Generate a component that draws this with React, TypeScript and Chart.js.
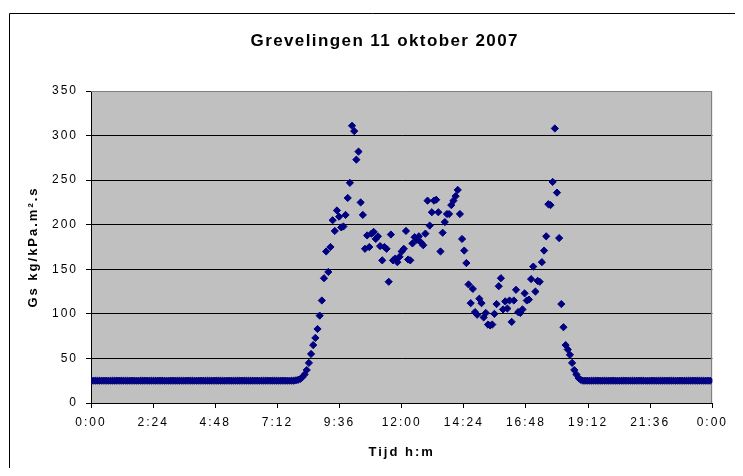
import React, { useEffect, useRef } from "react";
import { Chart, registerables } from "chart.js";

Chart.register(...registerables);

const TITLE = "Grevelingen 11 oktober 2007";
const X_TITLE = "Tijd h:m";
const Y_TITLE = "Gs kg/kPa.m².s";

const STEP_MINUTES = 5;
const X_MAX = 1440;
const X_TICK_STEP = 144;
const Y_MAX = 350;
const Y_TICK_STEP = 50;

// Gs values every 5 minutes, one row per hour
const gsNightEarly = [
  25, 25, 25, 25, 25, 25, 25, 25, 25, 25, 25, 25, // 0:00
  25, 25, 25, 25, 25, 25, 25, 25, 25, 25, 25, 25, // 1:00
  25, 25, 25, 25, 25, 25, 25, 25, 25, 25, 25, 25, // 2:00
  25, 25, 25, 25, 25, 25, 25, 25, 25, 25, 25, 25, // 3:00
  25, 25, 25, 25, 25, 25, 25, 25, 25, 25, 25, 25, // 4:00
  25, 25, 25, 25, 25, 25, 25, 25, 25, 25, 25, 25, // 5:00
  25, 25, 25, 25, 25, 25, 25, 25, 25, 25, 25, 25, // 6:00
  25, 25, 25, 25, 25, 25, 25, 25, 25, 25, 25, 25.5, // 7:00
];

const gsDaytime = [
  26, 27, 29, 32, 37, 45, 55, 65, 73, 83, 98, 115, // 8:00
  140, 170, 147, 175, 205, 193, 216, 209, 197, 198, 211, 230, // 9:00
  247, 311, 305, 273, 282, 225, 211, 173, 188, 175, 190, 192, // 10:00
  184, 187, 176, 160, 175, 173, 136, 189, 160, 162, 158, 164, // 11:00
  170, 173, 193, 161, 160, 179, 186, 183, 187, 180, 177, 190, // 12:00
  227, 199, 214, 227, 228, 214, 170, 191, 203, 212, 212, 222, // 13:00
  227, 232, 239, 212, 184, 171, 157, 133, 112, 128, 102, 99, // 14:00
  117, 112, 96, 101, 88, 87, 88, 100, 111, 131, 140, 105, // 15:00
  114, 106, 115, 91, 115, 127, 102, 101, 105, 123, 115, 116, // 16:00
  139, 153, 125, 137, 136, 158, 171, 187, 223, 222, 248, 308, // 17:00
  236, 185, 111, 85, 65, 60, 54, 45, 37, 32, 28, 26, // 18:00
];

const gsNightLate = [
  25, 25, 25, 25, 25, 25, 25, 25, 25, 25, 25, 25, // 19:00
  25, 25, 25, 25, 25, 25, 25, 25, 25, 25, 25, 25, // 20:00
  25, 25, 25, 25, 25, 25, 25, 25, 25, 25, 25, 25, // 21:00
  25, 25, 25, 25, 25, 25, 25, 25, 25, 25, 25, 25, // 22:00
  25, 25, 25, 25, 25, 25, 25, 25, 25, 25, 25, 25, // 23:00
];

const FONT = "'Liberation Sans', Arial, Helvetica, sans-serif";

function formatTime(value: number): string {
  const m = Math.round(value) % 1440;
  const h = Math.floor(m / 60);
  const mm = m % 60;
  return `${h}:${String(mm).padStart(2, "0")}`;
}

const excelPlugin = {
  id: "excelLook",
  beforeUpdate(chart: any) {
    chart.ctx.letterSpacing = "2px";
  },
  beforeDraw(chart: any) {
    const { ctx, chartArea } = chart;
    ctx.save();
    ctx.fillStyle = "#C0C0C0";
    ctx.fillRect(chartArea.left, chartArea.top, chartArea.right - chartArea.left, chartArea.bottom - chartArea.top);
    // outer frame (left and top edges visible)
    ctx.strokeStyle = "#000";
    ctx.lineWidth = 1;
    ctx.beginPath();
    ctx.moveTo(1.5, chart.height);
    ctx.lineTo(1.5, 5.5);
    ctx.lineTo(chart.width, 5.5);
    ctx.stroke();
    // title
    ctx.letterSpacing = "1.4px";
    ctx.fillStyle = "#000";
    ctx.font = `bold 17px ${FONT}`;
    ctx.textAlign = "center";
    ctx.textBaseline = "middle";
    ctx.fillText(TITLE, 376.7, 33);
    ctx.restore();
  },
  beforeDatasetsDraw(chart: any) {
    const { ctx, chartArea } = chart;
    ctx.save();
    ctx.strokeStyle = "#808080";
    ctx.lineWidth = 1;
    ctx.beginPath();
    const r = Math.round(chartArea.right) - 0.5;
    const t = Math.round(chartArea.top) + 0.5;
    ctx.moveTo(chartArea.left, t);
    ctx.lineTo(r, t);
    ctx.lineTo(r, chartArea.bottom);
    ctx.stroke();
    ctx.restore();
  },
};

export default function App() {
  const ref = useRef<HTMLCanvasElement>(null);

  useEffect(() => {
    const canvas = ref.current;
    if (!canvas) return;
    const gsValues = [...gsNightEarly, ...gsDaytime, ...gsNightLate];
    const points = gsValues.map((v, i) => ({ x: i * STEP_MINUTES, y: v }));

    const chart = new Chart(canvas, {
      type: "scatter",
      data: {
        datasets: [
          {
            label: "Gs",
            data: points,
            pointStyle: "rectRot",
            pointRadius: 3.6,
            pointBorderWidth: 1,
            backgroundColor: "#000080",
            borderColor: "#000080",
            showLine: false,
          },
        ],
      },
      options: {
        responsive: false,
        animation: false,
        events: [],
        layout: { padding: { left: 0, right: 15, top: 83, bottom: 0 } },
        plugins: {
          legend: { display: false },
          title: { display: false },
          tooltip: { enabled: false },
        },
        scales: {
          x: {
            type: "linear",
            min: 0,
            max: X_MAX,
            afterFit: (s: any) => {
              s.height = 65;
            },
            ticks: {
              stepSize: X_TICK_STEP,
              autoSkip: false,
              maxRotation: 0,
              color: "#000",
              padding: 7,
              font: { family: FONT, size: 12 },
              callback: (v: any) => formatTime(Number(v)),
            },
            grid: {
              drawOnChartArea: false,
              drawTicks: true,
              tickLength: 5,
              tickColor: "#000",
              color: "#000",
            },
            border: { display: true, color: "#000", width: 1 },
            title: {
              display: true,
              text: X_TITLE,
              color: "#000",
              font: { family: FONT, size: 13, weight: "bold" },
              padding: { top: 0, bottom: 8 },
            },
          },
          y: {
            min: 0,
            max: Y_MAX,
            afterFit: (s: any) => {
              s.width = 83;
            },
            ticks: {
              stepSize: Y_TICK_STEP,
              color: "#000",
              padding: 8,
              font: { family: FONT, size: 12 },
            },
            grid: {
              color: (c: any) => (c.tick && c.tick.value === Y_MAX ? "rgba(0,0,0,0)" : "#000"),
              tickColor: "#000",
              tickLength: 5,
              lineWidth: 1,
            },
            border: { display: true, color: "#000", width: 1 },
            title: {
              display: true,
              text: Y_TITLE,
              color: "#000",
              font: { family: FONT, size: 13, weight: "bold" },
              padding: { top: 18, bottom: 0 },
            },
          },
        },
      },
      plugins: [excelPlugin],
    });

    return () => chart.destroy();
  }, []);

  return <canvas ref={ref} width={727} height={460} style={{ display: "block" }} />;
}
